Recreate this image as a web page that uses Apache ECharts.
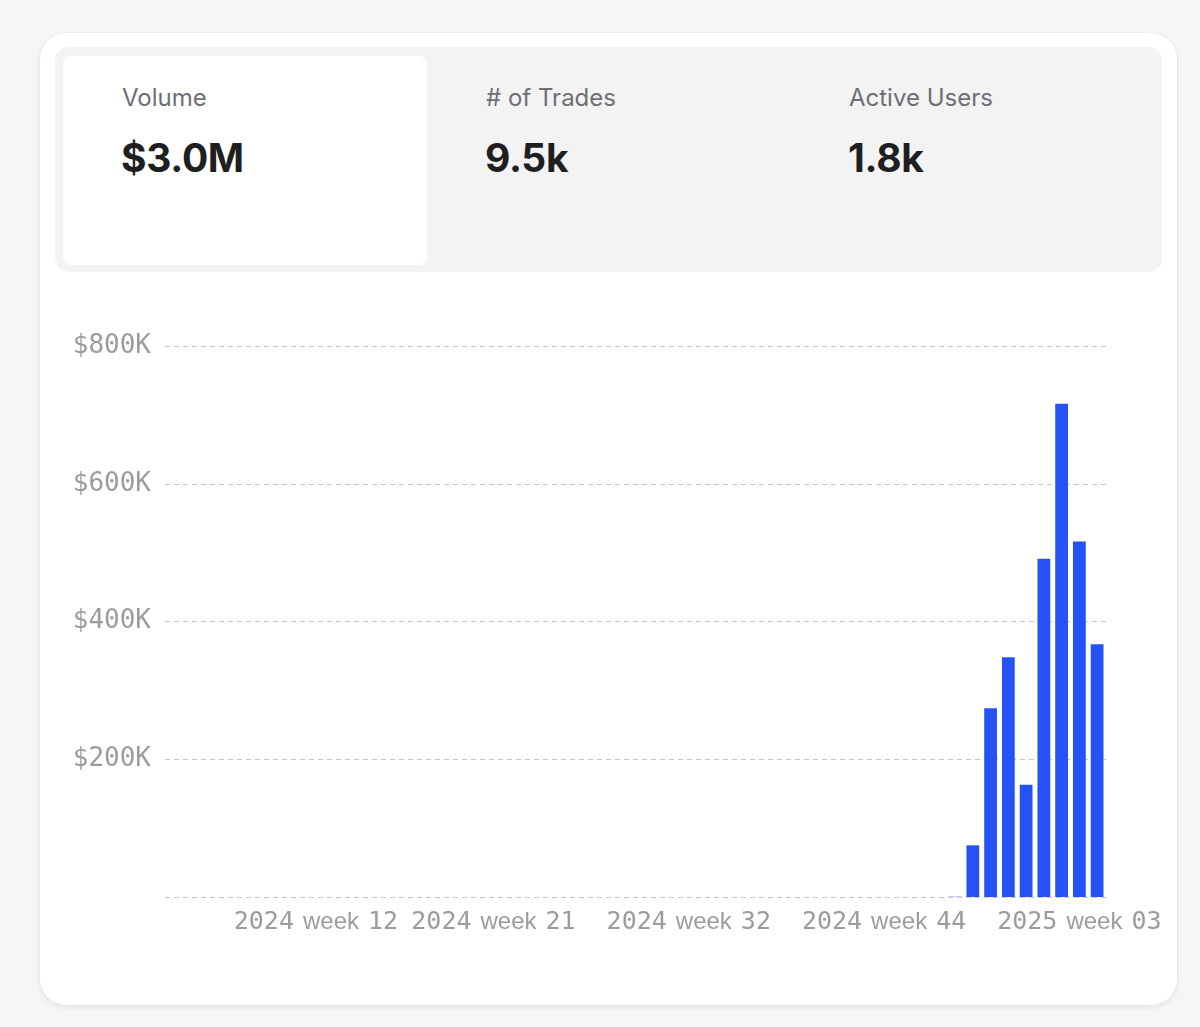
<!DOCTYPE html>
<html>
<head>
<meta charset="utf-8">
<script src="https://cdn.jsdelivr.net/npm/echarts@6/dist/echarts.min.js"></script>
<style>
  html, body { margin: 0; padding: 0; background: #f6f6f6; }
  body { width: 1200px; height: 1027px; position: relative; overflow: hidden; font-family: Inter, "Noto Sans", sans-serif; }
  .card {
    position: absolute; left: 40px; top: 33px; width: 1137px; height: 972px;
    background: #fff; border-radius: 26px;
    box-shadow: 0 2px 6px rgba(0,0,0,0.08), 0 0 0 1px rgba(0,0,0,0.02);
  }
  .tabs {
    position: absolute; left: 15px; top: 14px; width: 1107px; height: 225px;
    background: #f3f3f4; border-radius: 14px;
  }
  .tab { position: absolute; top: 9px; width: 364px; height: 209px; border-radius: 8px; }
  .tab.active { background: #fff; }
  .tab .label { position: absolute; left: 59px; top: 27px; font-size: 24px; color: #6e6e76; }
  .tab .value { position: absolute; left: 58px; top: 78px; font-size: 39px; font-weight: 700; color: #1f1f21; letter-spacing: -0.3px; }
  #chart { position: absolute; left: 0; top: 0; width: 1200px; height: 1027px; }
</style>
</head>
<body>
<div class="card">
  <div class="tabs">
    <div class="tab active" style="left:8px"><div class="label">Volume</div><div class="value">$3.0M</div></div>
    <div class="tab" style="left:372px"><div class="label"># of Trades</div><div class="value">9.5k</div></div>
    <div class="tab" style="left:735px"><div class="label">Active Users</div><div class="value">1.8k</div></div>
  </div>
</div>
<div id="chart"></div>
<script>
// weekly buckets (week 13 appears twice, week 43 is missing in the source data)
const weeks = [
  '2024 week 04', '2024 week 05', '2024 week 06', '2024 week 07', '2024 week 08',
  '2024 week 09', '2024 week 10', '2024 week 11', '2024 week 12', '2024 week 13',
  '2024 week 13', '2024 week 14', '2024 week 15', '2024 week 16', '2024 week 17',
  '2024 week 18', '2024 week 19', '2024 week 20', '2024 week 21', '2024 week 22',
  '2024 week 23', '2024 week 24', '2024 week 25', '2024 week 26', '2024 week 27',
  '2024 week 28', '2024 week 29', '2024 week 30', '2024 week 31', '2024 week 32',
  '2024 week 33', '2024 week 34', '2024 week 35', '2024 week 36', '2024 week 37',
  '2024 week 38', '2024 week 39', '2024 week 40', '2024 week 41', '2024 week 42',
  '2024 week 44', '2024 week 45', '2024 week 46', '2024 week 47', '2024 week 48',
  '2024 week 49', '2024 week 50', '2024 week 51', '2024 week 52', '2025 week 01',
  '2025 week 02', '2025 week 03', '2025 week 04'
];

// volume in USD
const volume = [
  0, 0, 0, 0, 0, 0, 0, 0, 0, 0,
  0, 0, 0, 0, 0, 0, 0, 0, 0, 0,
  0, 0, 0, 0, 0, 0, 0, 0, 0, 0,
  0, 0, 0, 0, 0, 0, 0, 0, 0, 0,
  0, 0, 0, 0, 400,
  75000, 274000, 348000, 163000, 491000, 716000, 516000, 367000
];

const tickLabels = ['2024 week 12', '2024 week 21', '2024 week 32', '2024 week 44', '2025 week 03'];

const chart = echarts.init(document.getElementById('chart'));

const option = {
  animation: false,
  grid: { left: 165, right: 94, top: 346, bottom: 130 },
  xAxis: {
    type: 'category',
    data: weeks,
    axisLine: { show: false },
    axisTick: { show: false },
    axisLabel: {
      interval: (i, name) => tickLabels.includes(name),
      margin: 13,
      color: '#9b9ba1',
      formatter: (v) => {
        const p = v.split(' ');
        return '{n|' + p[0] + '}{s| }{w|' + p[1] + '}{s| }{n|' + p[2] + '}';
      },
      rich: {
        n: { fontFamily: 'DejaVu Sans Mono', fontSize: 25, color: '#9b9ba1' },
        w: { fontFamily: 'Liberation Sans', fontSize: 24, color: '#9b9ba1' },
        s: { fontSize: 24, width: 9 }
      }
    }
  },
  yAxis: {
    type: 'value',
    min: 0,
    max: 800000,
    interval: 200000,
    axisLine: { show: false },
    axisTick: { show: false },
    splitLine: { lineStyle: { color: '#c6c6cb', type: [5, 4], width: 1 } },
    axisLabel: {
      margin: 14,
      color: '#9b9ba1',
      fontFamily: 'DejaVu Sans Mono',
      fontSize: 26,
      lineHeight: 30,
      padding: [4, 0, 0, 0],
      formatter: (v) => v === 0 ? '' : '$' + (v / 1000) + 'K'
    }
  },
  series: [{
    type: 'bar',
    data: volume,
    barCategoryGap: '28%',
    itemStyle: { color: '#2452f5' }
  }]
};

chart.setOption(option);
</script>
</body>
</html>
